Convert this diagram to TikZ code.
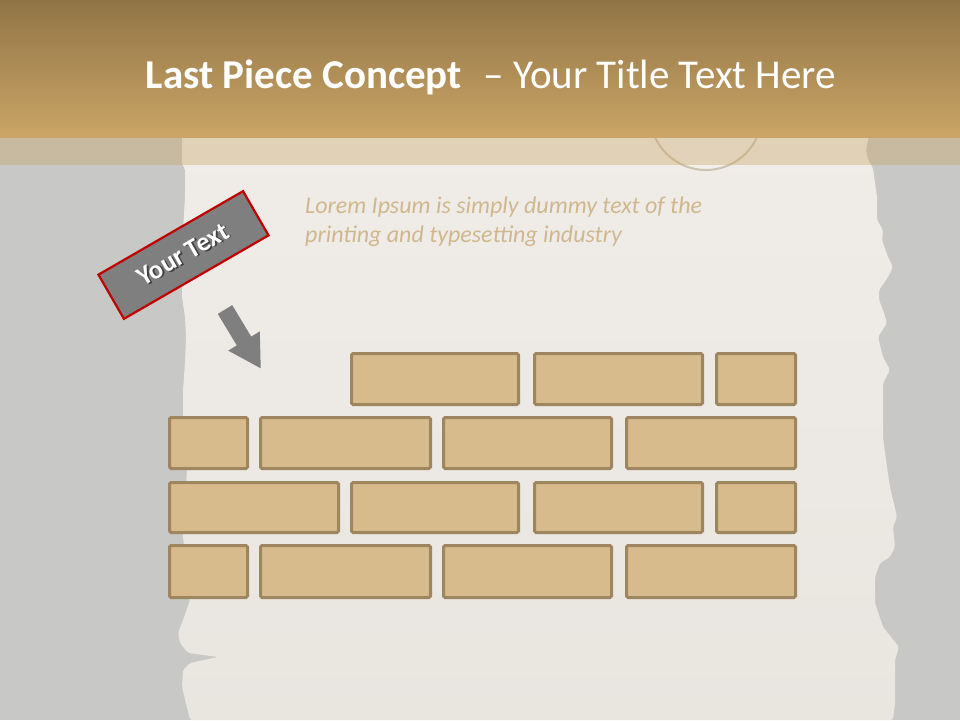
\documentclass[tikz,border=0pt]{standalone}
\usepackage{fontspec}
\setmainfont{Carlito}
\definecolor{bggray}{HTML}{C8C8C6}
\definecolor{papertop}{HTML}{F0EDE9}
\definecolor{paperbot}{HTML}{E9E5DF}
\definecolor{bartop}{HTML}{917446}
\definecolor{barbot}{HTML}{CAA566}
\definecolor{brickfill}{HTML}{D8BB8C}
\definecolor{brickline}{HTML}{9E875F}
\definecolor{loremc}{HTML}{D0B78D}
\definecolor{labelgray}{HTML}{7F7F7F}
\definecolor{labelred}{HTML}{C00000}
\definecolor{glassc}{HTML}{CDC2B0}
\newcommand\mkbrick[5]{%
  \node[brickbox, minimum width={(#4-#2-3)*1pt}, minimum height={(#5-#3-3)*1pt}]
    (#1) at ({(#2+#4)/2},{(#3+#5)/2}) {};}
\newcommand\shadowed[1]{\makebox[0pt][l]{\hspace{1.3pt}\raisebox{-1.3pt}{\textcolor{black!75}{#1}}}#1}
\begin{document}
\begin{tikzpicture}[x=1pt,y=-1pt,
  brickbox/.style={draw=brickline, fill=brickfill, line width=3pt,
    rounded corners=1.5pt, inner sep=0pt, outer sep=0pt},
  labelbox/.style={draw=labelred, fill=labelgray, line width=2.2pt,
    minimum width=167pt, minimum height=51pt, inner sep=0pt, text=white,
    font=\bfseries\fontsize{26.5}{30}\selectfont},
  arrowfill/.style={fill=labelgray},
  lorem/.style={anchor=base west, text=loremc, font=\itshape\fontsize{24}{29}\selectfont, inner sep=0pt},
]
\useasboundingbox (0,0) rectangle (960,720);
\fill[bggray] (0,0) rectangle (960,720);
% torn paper
\shade[top color=papertop, bottom color=paperbot, rounded corners=2pt]
 (182,130) -- (182,165) -- (185,168) -- (185,197) -- (183,230) -- (182,297) -- (185,317)
 -- (186,337) -- (185,363) -- (183,390) -- (183,430) -- (187,470) -- (183,537) -- (190,600)
 -- (183,620) -- (178,633) -- (180,643) -- (188,653) -- (218,657) -- (190,663) -- (183,670)
 -- (182,687) -- (190,720) -- (893,720) -- (895,703) -- (895,660) -- (899,647) -- (883,627)
 -- (875,603) -- (875,577) -- (880,563) -- (890,557) -- (895,547) -- (893,527) -- (897,517)
 -- (890,487) -- (885,453) -- (883,437) -- (883,383) -- (890,370) -- (883,357) -- (878,337)
 -- (887,323) -- (883,310) -- (879,300) -- (879,290) -- (888,277) -- (893,267) -- (888,257)
 -- (882,240) -- (883,230) -- (877,220) -- (877,197) -- (873,168) -- (868,160) -- (866,150)
 -- (870,130) -- cycle;
% glass
\draw[glassc, line width=2pt, fill=white, fill opacity=0.15] (706,114) circle (56);
% title bar
\shade[top color=bartop, bottom color=barbot] (0,0) rectangle (960,137);
\fill[barbot, opacity=0.38] (0,137) rectangle (960,165);
\node[anchor=base, text=white, font=\fontsize{41}{48}\selectfont, inner sep=0pt] (title)
  at (491,88) {\textbf{Last Piece Concept}\hspace{0.3em} – Your Title Text Here};
% lorem text
\node[lorem] (lorem1) at (305,213) {Lorem Ipsum is simply dummy text of the};
\node[lorem] (lorem2) at (305,242) {printing and typesetting industry};
% label
\node[labelbox, rotate=30] (lbl) at (183.5,255) {\shadowed{Your Text}};
% arrow
\fill[arrowfill] (217.8,313.9) -- (232.2,305.1) -- (251.2,336.6) -- (259.8,331.4)
  -- (260.7,368.3) -- (228.2,350.6) -- (236.8,345.4) -- cycle;
% bricks
\mkbrick{r1a}{350}{352}{520}{406}
\mkbrick{r1b}{533}{352}{704}{406}
\mkbrick{r1c}{715}{352}{797}{406}
\mkbrick{r2a}{168}{416}{249}{470}
\mkbrick{r2b}{259}{416}{432}{470}
\mkbrick{r2c}{442}{416}{613}{470}
\mkbrick{r2d}{625}{416}{797}{470}
\mkbrick{r3a}{168}{481}{340}{534}
\mkbrick{r3b}{350}{481}{520}{534}
\mkbrick{r3c}{533}{481}{704}{534}
\mkbrick{r3d}{715}{481}{797}{534}
\mkbrick{r4a}{168}{544}{249}{599}
\mkbrick{r4b}{259}{544}{432}{599}
\mkbrick{r4c}{442}{544}{613}{599}
\mkbrick{r4d}{625}{544}{797}{599}
\end{tikzpicture}
\end{document}
